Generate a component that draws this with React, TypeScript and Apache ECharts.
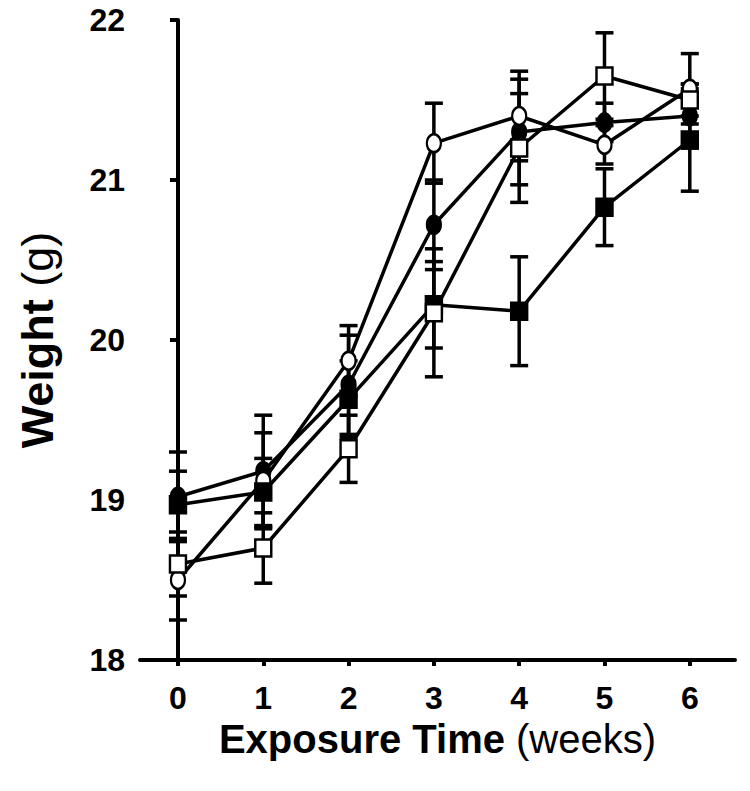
import React, { useEffect, useRef } from "react";
import * as echarts from "echarts";

const weeks = [0, 1, 2, 3, 4, 5, 6];
const yTicks = [18, 19, 20, 21, 22];

const filledCircle = [19.02, 19.18, 19.72, 20.72, 21.3, 21.36, 21.4];
const filledCircleErr = [0.28, 0.35, 0.31, 0.28, 0.33, 0.12, 0.2];
const openCircle = [18.5, 19.12, 19.87, 21.23, 21.4, 21.22, 21.57];
const openCircleErr = [0.25, 0.3, 0.22, 0.25, 0.28, 0.12, 0.22];
const filledSquare = [18.97, 19.05, 19.63, 20.22, 20.18, 20.83, 21.25];
const filledSquareErr = [0.21, 0.21, 0.24, 0.27, 0.34, 0.24, 0.32];
const openSquare = [18.6, 18.7, 19.32, 20.17, 21.2, 21.65, 21.5];
const openSquareErr = [0.2, 0.22, 0.21, 0.4, 0.34, 0.27, 0.1];

const seriesDefs = [
  { name: "filledCircle", values: filledCircle, err: filledCircleErr, symbol: "circle", fill: "#000" },
  { name: "openCircle", values: openCircle, err: openCircleErr, symbol: "circle", fill: "#fff" },
  { name: "filledSquare", values: filledSquare, err: filledSquareErr, symbol: "rect", fill: "#000" },
  { name: "openSquare", values: openSquare, err: openSquareErr, symbol: "rect", fill: "#fff" },
];

export default function App() {
  const ref = useRef<HTMLDivElement>(null);
  useEffect(() => {
    if (!ref.current) return;
    const chart = echarts.init(ref.current, undefined, { renderer: "svg" });
    const font = "'Liberation Sans', Arial, sans-serif";
    const series: any[] = [];
    seriesDefs.forEach((s) => {
      series.push({
        type: "custom",
        name: s.name + "Err",
        z: 1,
        data: weeks.map((w, i) => [w, s.values[i] - s.err[i], s.values[i] + s.err[i]]),
        renderItem: (params: any, api: any) => {
          const x = api.value(0);
          const lo = api.coord([x, api.value(1)]);
          const hi = api.coord([x, api.value(2)]);
          const cw = 9;
          const st = { stroke: "#000", lineWidth: 3.5 };
          return {
            type: "group",
            children: [
              { type: "line", shape: { x1: lo[0], y1: lo[1], x2: hi[0], y2: hi[1] }, style: st },
              { type: "line", shape: { x1: lo[0] - cw, y1: lo[1], x2: lo[0] + cw, y2: lo[1] }, style: st },
              { type: "line", shape: { x1: hi[0] - cw, y1: hi[1], x2: hi[0] + cw, y2: hi[1] }, style: st },
            ],
          };
        },
      });
    });
    seriesDefs.forEach((s, si) => {
      series.push({
        type: "line",
        name: s.name,
        z: 3 + si,
        data: weeks.map((w, i) => [w, s.values[i]]),
        symbol: s.symbol,
        symbolSize: s.symbol === "circle" ? [14, 18] : [16, 17],
        showAllSymbol: true,
        lineStyle: { color: "#000", width: 3.5 },
        itemStyle: { color: s.fill, borderColor: "#000", borderWidth: 2.5 },
      });
    });
    const xTitleRich = {
      b: { fontFamily: font, fontWeight: "bold", fontSize: 40, color: "#000" },
      n: { fontFamily: font, fontWeight: "normal", fontSize: 40, color: "#000" },
    };
    const yTitleRich = {
      b: { fontFamily: font, fontWeight: "bold", fontSize: 45, color: "#000" },
      n: { fontFamily: font, fontWeight: "normal", fontSize: 45, color: "#000" },
    };
    chart.setOption({
      animation: false,
      grid: { left: 140, right: 15, top: 20, bottom: 131, containLabel: false },
      xAxis: {
        type: "value",
        min: -0.445,
        max: 6.53,
        name: "{b|Exposure Time}{n| (weeks)}",
        nameLocation: "middle",
        nameGap: 58,
        nameTextStyle: { rich: xTitleRich },
        splitLine: { show: false },
        axisLine: { show: true, lineStyle: { color: "#000", width: 4 } },
        axisTick: { show: true, customValues: weeks, length: 6, lineStyle: { color: "#000", width: 4 } },
        axisLabel: {
          customValues: weeks,
          margin: 22,
          fontFamily: font,
          fontWeight: "bold",
          fontSize: 32,
          color: "#000",
        },
      },
      yAxis: {
        type: "value",
        min: 18,
        max: 22,
        interval: 1,
        name: "{b|Weight}{n| (g)}",
        nameLocation: "middle",
        nameGap: 80,
        nameRotate: 90,
        nameTextStyle: { rich: yTitleRich },
        splitLine: { show: false },
        axisLine: { show: true, lineStyle: { color: "#000", width: 4 } },
        axisTick: { show: true, length: 8, lineStyle: { color: "#000", width: 4 } },
        axisLabel: {
          margin: 15,
          fontFamily: font,
          fontWeight: "bold",
          fontSize: 32,
          color: "#000",
          formatter: (v: number) => (yTicks.includes(v) ? String(v) : ""),
        },
      },
      series,
    });
    return () => chart.dispose();
  }, []);
  return (
    <div
      ref={ref}
      style={{ position: "absolute", left: 0, top: 0, width: 750, height: 791 }}
    />
  );
}
